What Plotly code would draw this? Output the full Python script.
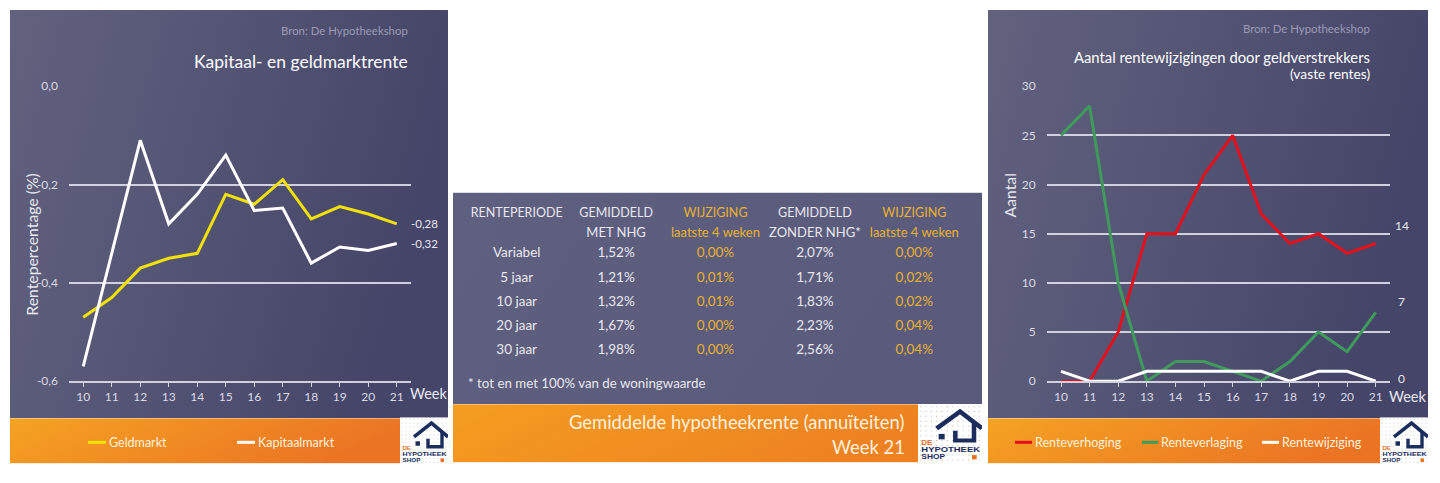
import base64
import plotly.graph_objects as go

W, H = 1440, 483
FONT = "Lato"
# vertical calibration of the photographed page (measured from previous renders)
Y_OFF = 9.0
Y_SCALE = 483.0 / 500.0

# ---------------- data ----------------
weeks = list(range(10, 22))
geldmarkt = [-0.47, -0.43, -0.37, -0.35, -0.34, -0.22, -0.24, -0.19, -0.27, -0.245, -0.26, -0.28]
kapitaalmarkt = [-0.57, -0.34, -0.11, -0.28, -0.22, -0.14, -0.253, -0.248, -0.36, -0.327, -0.334, -0.32]

renteverhoging = [0, 0, 5, 15, 15, 21, 25, 17, 14, 15, 13, 14]
renteverlaging = [25, 28, 10, 0, 2, 2, 1, 0, 2, 5, 3, 7]
rentewijziging = [1, 0, 0, 1, 1, 1, 1, 1, 0, 1, 1, 0]

left_yticks = [-0.6, -0.4, -0.2, 0.0]
right_yticks = [0, 5, 10, 15, 20, 25, 30]

periodes = ["Variabel", "5 jaar", "10 jaar", "20 jaar", "30 jaar"]
met_nhg = [1.52, 1.21, 1.32, 1.67, 1.98]
wijz_met_nhg = [0.00, 0.01, 0.01, 0.00, 0.00]
zonder_nhg = [2.07, 1.71, 1.83, 2.23, 2.56]
wijz_zonder_nhg = [0.00, 0.02, 0.02, 0.04, 0.04]
header_line1 = ["RENTEPERIODE", "GEMIDDELD", "WIJZIGING", "GEMIDDELD", "WIJZIGING"]
header_line2 = ["", "MET NHG", "laatste 4 weken", "ZONDER NHG*", "laatste 4 weken"]
table_cols = ["periode", "met", "wijz_met", "zonder", "wijz_zonder"]

# ---------------- styles ----------------
GRID = "rgba(222,222,234,0.9)"
TICK = "#dadae6"
CREAM = "#fdf1dc"
GOLD = "#e9b22c"
TXT = "#e8e8f0"
YELLOW = "#f1e106"
RED = "#e4101c"
GREEN = "#3f9a5c"


def fx(px):
    return px / W


def fy(py):
    return 1 - ((py - Y_OFF) / Y_SCALE) / H


def pct(v):
    return f"{v:.2f}%".replace(".", ",")


def grad_uri(c1, c2):
    svg = ('<svg xmlns="http://www.w3.org/2000/svg" width="100" height="100" viewBox="0 0 100 100" '
           'preserveAspectRatio="none"><defs><linearGradient id="g" x1="0" y1="0" x2="1" y2="0.25">'
           f'<stop offset="0" stop-color="{c1}"/><stop offset="1" stop-color="{c2}"/></linearGradient></defs>'
           '<rect width="100" height="100" fill="url(#g)"/></svg>')
    return "data:image/svg+xml;base64," + base64.b64encode(svg.encode()).decode()


def logo_uri():
    dots = []
    for i in range(12):
        for j in range(12):
            col = "#e9c3a8" if (i + j) % 5 == 0 else "#d3d3dc"
            dots.append(f'<circle cx="{2 + i * 4}" cy="{2 + j * 4}" r="0.6" fill="{col}"/>')
    svg = ('<svg xmlns="http://www.w3.org/2000/svg" width="48" height="48" viewBox="0 0 48 48" '
           'preserveAspectRatio="none"><rect width="48" height="48" fill="#ffffff"/>' + "".join(dots) +
           '<polyline points="14,20 31.5,6 48,20" fill="none" stroke="#1b2d5c" stroke-width="3.6"/>'
           '<path d="M28 22 V30 H42 V15" fill="none" stroke="#1b2d5c" stroke-width="3.4"/>'
           '<rect x="15.5" y="24.5" width="4.5" height="4.5" fill="#1b2d5c"/>'
           '<text x="2.5" y="33.5" font-family="Arial" font-weight="bold" font-size="6" fill="#e8731e">DE</text>'
           '<text x="2.5" y="39.5" font-family="Arial" font-weight="bold" font-size="6.3" fill="#1b2d5c" '
           'textLength="44" lengthAdjust="spacingAndGlyphs">HYPOTHEEK</text>'
           '<text x="2.5" y="45.5" font-family="Arial" font-weight="bold" font-size="6.3" fill="#1b2d5c">SHOP</text>'
           '<rect x="40.5" y="42" width="3.5" height="3.5" fill="#e8731e"/></svg>')
    return "data:image/svg+xml;base64," + base64.b64encode(svg.encode()).decode()


def img(src, x0, y0, x1, y1):
    return dict(source=src, xref="paper", yref="paper", x=fx(x0), y=fy(y0),
                sizex=(x1 - x0) / W, sizey=fy(y0) - fy(y1), xanchor="left", yanchor="top",
                sizing="stretch", layer="below")


def ann(text, x, y, size, color, xanchor="center", angle=0):
    return dict(text=text, xref="paper", yref="paper", x=fx(x), y=fy(y), xanchor=xanchor,
                yanchor="middle", showarrow=False, textangle=angle,
                font=dict(family=FONT, size=size, color=color))


fig = go.Figure()

# ---------------- left chart ----------------
fig.add_trace(go.Scatter(x=weeks, y=geldmarkt, mode="lines", line=dict(color=YELLOW, width=3),
                         xaxis="x", yaxis="y", hoverinfo="skip", showlegend=False))
fig.add_trace(go.Scatter(x=weeks, y=kapitaalmarkt, mode="lines", line=dict(color="#ffffff", width=3),
                         xaxis="x", yaxis="y", hoverinfo="skip", showlegend=False))

# ---------------- right chart ----------------
fig.add_trace(go.Scatter(x=weeks, y=renteverhoging, mode="lines", line=dict(color=RED, width=3),
                         xaxis="x2", yaxis="y2", hoverinfo="skip", showlegend=False))
fig.add_trace(go.Scatter(x=weeks, y=renteverlaging, mode="lines", line=dict(color=GREEN, width=3),
                         xaxis="x2", yaxis="y2", hoverinfo="skip", showlegend=False))
fig.add_trace(go.Scatter(x=weeks, y=rentewijziging, mode="lines", line=dict(color="#ffffff", width=3),
                         xaxis="x2", yaxis="y2", hoverinfo="skip", showlegend=False))

# ---------------- middle table ----------------
rows = list(range(len(periodes)))
col_values = [periodes, [pct(v) for v in met_nhg], [pct(v) for v in wijz_met_nhg],
              [pct(v) for v in zonder_nhg], [pct(v) for v in wijz_zonder_nhg]]
col_colors = [TXT, TXT, GOLD, TXT, GOLD]
for key, vals, col in zip(table_cols, col_values, col_colors):
    fig.add_trace(go.Scatter(x=[key] * len(vals), y=rows, text=vals, mode="text",
                             textfont=dict(family=FONT, size=13.5, color=col), cliponaxis=False,
                             xaxis="x3", yaxis="y3", hoverinfo="skip", showlegend=False))
fig.add_trace(go.Scatter(x=table_cols, y=[-1.67] * 5, text=header_line1, mode="text",
                         textfont=dict(family=FONT, size=12.5, color=col_colors), cliponaxis=False,
                         xaxis="x3", yaxis="y3", hoverinfo="skip", showlegend=False))
fig.add_trace(go.Scatter(x=table_cols, y=[-0.84] * 5, text=header_line2, mode="text",
                         textfont=dict(family=FONT, size=13, color=col_colors), cliponaxis=False,
                         xaxis="x3", yaxis="y3", hoverinfo="skip", showlegend=False))

# ---------------- backgrounds & logos ----------------
images = [
    img(grad_uri("#62627f", "#454569"), 10, 11, 448, 418),
    img(grad_uri("#f5a322", "#eb7424"), 10, 418, 400, 463),
    img(logo_uri(), 400, 417, 448, 464),
    img(grad_uri("#5f5f7f", "#5a5a7c"), 453, 193, 982, 404),
    img(grad_uri("#f49d20", "#ee8222"), 453, 404, 918, 462),
    img(logo_uri(), 918, 404, 982, 462),
    img(grad_uri("#62627f", "#454569"), 988, 11, 1428, 418),
    img(grad_uri("#f5a322", "#eb7424"), 988, 418, 1380, 463),
    img(logo_uri(), 1380, 417, 1428, 464),
]

axis_common = dict(showgrid=False, zeroline=False, fixedrange=True)

annotations = [
    # left chart
    ann("Bron: De Hypotheekshop", 410, 31, 11.4, "#9b9bb5", "right"),
    ann("Kapitaal- en geldmarktrente", 410, 62, 17.5, "#ffffff", "right"),
    ann("Rentepercentage (%)", 32, 245, 15.8, TXT, "center", -90),
    ann("Week", 408, 393, 14.5, TXT, "left"),
    ann("Geldmarkt", 107, 442, 12.5, CREAM, "left"),
    ann("Kapitaalmarkt", 256, 442, 12.5, CREAM, "left"),
    # middle
    ann("* tot en met 100% van de woningwaarde", 466, 383, 13.3, TXT, "left"),
    ann("Gemiddelde hypotheekrente (annuïteiten)", 907, 422, 18.4, CREAM, "right"),
    ann("Week 21", 907, 447, 18.4, CREAM, "right"),
    # right chart
    ann("Bron: De Hypotheekshop", 1372, 29, 11.4, "#9b9bb5", "right"),
    ann("Aantal rentewijzigingen door geldverstrekkers", 1372, 58, 14.8, "#ffffff", "right"),
    ann("(vaste rentes)", 1372, 74, 13.8, "#ffffff", "right"),
    ann("Aantal", 1010, 195, 15.8, TXT, "center", -90),
    ann("Week", 1387, 396, 14.5, TXT, "left"),
    ann("Renteverhoging", 1033, 442, 12.5, CREAM, "left"),
    ann("Renteverlaging", 1159, 442, 12.5, CREAM, "left"),
    ann("Rentewijziging", 1280, 442, 12.5, CREAM, "left"),
]

# end-of-line value labels (data coordinates)
for series in (geldmarkt, kapitaalmarkt):
    annotations.append(dict(text=f"{series[-1]:.2f}".replace(".", ","), x=weeks[-1], y=series[-1],
                            xref="x", yref="y", xshift=28, showarrow=False,
                            font=dict(family=FONT, size=11.5, color=TXT)))
for series, ys in ((renteverhoging, 18), (renteverlaging, 11), (rentewijziging, 3)):
    annotations.append(dict(text=str(series[-1]), x=weeks[-1], y=series[-1], xref="x2", yref="y2",
                            xshift=26, yshift=ys, showarrow=False,
                            font=dict(family=FONT, size=12, color=TXT)))

shapes = []
for (x0, x1, y, c) in ((88, 106, 442, YELLOW), (237, 255, 442, "#ffffff"),
                       (1015, 1032, 442, RED), (1142, 1158, 442, GREEN), (1262, 1279, 442, "#ffffff")):
    shapes.append(dict(type="line", xref="paper", yref="paper", x0=fx(x0), x1=fx(x1), y0=fy(y), y1=fy(y),
                       line=dict(color=c, width=3)))

fig.update_layout(
    width=W, height=H, autosize=False,
    margin=dict(l=0, r=0, t=0, b=0),
    paper_bgcolor="#ffffff", plot_bgcolor="rgba(0,0,0,0)",
    font=dict(family=FONT, color=TXT),
    showlegend=False,
    images=images, annotations=annotations, shapes=shapes,
    xaxis=dict(domain=[fx(69), fx(411)], range=[9.5, 21.5], tickvals=weeks, anchor="y",
               showline=True, linecolor=GRID, linewidth=1.5, ticks="outside", ticklen=4,
               tickcolor=GRID, tickfont=dict(size=12, color=TICK), **axis_common),
    yaxis=dict(domain=[fy(381), fy(87)], range=[-0.6, 0.0], tickvals=left_yticks,
               ticktext=[f"{v:.1f}".replace(".", ",") for v in left_yticks], anchor="x",
               showgrid=True, gridcolor=GRID, gridwidth=1.5, zeroline=False, fixedrange=True,
               ticks="", ticklabelstandoff=10, tickfont=dict(size=12, color=TICK)),
    xaxis2=dict(domain=[fx(1046.7), fx(1390)], range=[9.5, 21.5], tickvals=weeks, anchor="y2",
                showline=True, linecolor=GRID, linewidth=1.5, ticks="outside", ticklen=4,
                tickcolor=GRID, tickfont=dict(size=12, color=TICK), **axis_common),
    yaxis2=dict(domain=[fy(381), fy(87)], range=[0, 30], tickvals=right_yticks, anchor="x2",
                showgrid=True, gridcolor=GRID, gridwidth=1.5, zeroline=False, fixedrange=True,
                ticks="", ticklabelstandoff=10, tickfont=dict(size=12, color=TICK)),
    xaxis3=dict(domain=[fx(467), fx(964)], type="category", categoryarray=table_cols,
                range=[-0.5, 4.5], visible=False, anchor="y3", fixedrange=True),
    yaxis3=dict(domain=[fy(386.8), fy(194)], range=[5.5, -2.5], visible=False, anchor="x3",
                fixedrange=True),
)

post = ("document.body.style.margin='0';document.body.style.padding='0';"
        "document.documentElement.style.overflow='hidden';"
        "var gd=document.getElementById('{plot_id}');gd.style.position='fixed';"
        "gd.style.left='0px';gd.style.top='0px';")

fig.write_html("out.html", post_script=post, config={"displayModeBar": False})
